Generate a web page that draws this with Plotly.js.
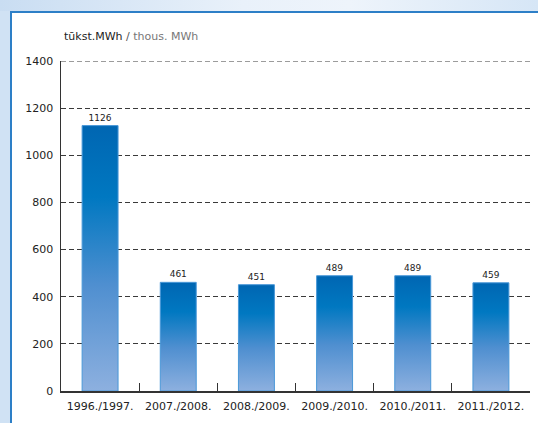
<!DOCTYPE html>
<html>
<head>
<meta charset="utf-8">
<script src="https://cdn.plot.ly/plotly-3.0.1.min.js"></script>
<style>
  html, body { margin: 0; padding: 0; overflow: hidden; background: #ffffff; }
  #bgLeft { position: absolute; left: 0; top: 0; width: 10px; height: 423px; background: #d0e2f4; }
  #topstrip {
    position: absolute; left: 0; top: 0; width: 100%; height: 11px;
    background: linear-gradient(to right, #c9ddf2 0%, #e9f1fa 45%, #eef4fb 65%, #d6e6f6 100%);
  }
  #lineLeft { position: absolute; left: 10px; top: 11px; width: 2px; height: 423px; background: #2d7fc7; }
  #lineTop { position: absolute; left: 10px; top: 11px; width: 100%; height: 2px; background: #2d7fc7; }
  #chart { position: absolute; left: 0; top: 0; width: 538px; height: 423px; }
</style>
</head>
<body>
<div id="bgLeft"></div>
<div id="topstrip"></div>
<div id="lineLeft"></div>
<div id="lineTop"></div>
<div id="chart"></div>
<script>
const categories = ["1996./1997.", "2007./2008.", "2008./2009.", "2009./2010.", "2010./2011.", "2011./2012."];
const values = [1126, 461, 451, 489, 489, 459];
const yTicks = [0, 200, 400, 600, 800, 1000, 1200, 1400];

const font = "DejaVu Sans, Verdana, sans-serif";

const trace = {
  type: "bar",
  x: categories,
  y: values,
  width: 0.46,
  text: values.map(String),
  textposition: "outside",
  cliponaxis: false,
  textfont: { family: font, size: 9, color: "#222" },
  marker: { color: "#0070ba", line: { color: "#4a98d8", width: 1 } },
  hoverinfo: "none"
};

const layout = {
  width: 538, height: 423,
  margin: { l: 61, r: 8, t: 61, b: 32 },
  paper_bgcolor: "rgba(0,0,0,0)",
  plot_bgcolor: "rgba(0,0,0,0)",
  showlegend: false,
  bargap: 0.54,
  font: { family: font, size: 11, color: "#222" },
  xaxis: {
    type: "category",
    showgrid: false,
    showline: true, linecolor: "#333", linewidth: 1.5,
    ticks: "inside", tickson: "boundaries", ticklen: 8, tickcolor: "#333", tickwidth: 1.2,
    ticklabelstandoff: 4,
    tickfont: { family: font, size: 11, color: "#222" },
    fixedrange: true
  },
  yaxis: {
    range: [0, 1400],
    tickvals: yTicks,
    ticktext: yTicks.map(String),
    showline: true, linecolor: "#333", linewidth: 1.5,
    showgrid: true, gridcolor: "#3a3a3a", gridwidth: 1, griddash: "5px,3px",
    zeroline: false,
    ticks: "",
    ticklabelstandoff: 4,
    tickfont: { family: font, size: 11, color: "#222" },
    fixedrange: true
  },
  shapes: [{
    type: "line", xref: "paper", yref: "y",
    x0: 0, x1: 1, y0: yTicks[yTicks.length - 1], y1: yTicks[yTicks.length - 1],
    line: { color: "#3a3a3a", width: 1, dash: "5px,3px" },
    layer: "below"
  }],
  annotations: [{
    xref: "paper", yref: "paper", x: 0, y: 1,
    xanchor: "left", yanchor: "middle", xshift: 1, yshift: 25,
    showarrow: false,
    text: "<span style='color:#222'>tūkst.MWh</span><span style='color:#555'> / </span><span style='color:#777'>thous. MWh</span>",
    font: { family: font, size: 11, color: "#222" }
  }]
};

Plotly.newPlot("chart", [trace], layout, { displayModeBar: false, staticPlot: true }).then(function (gd) {
  const svgNS = "http://www.w3.org/2000/svg";
  const svg = gd.querySelector(".main-svg");
  let defs = svg.querySelector("defs");
  if (!defs) { defs = document.createElementNS(svgNS, "defs"); svg.insertBefore(defs, svg.firstChild); }
  const grad = document.createElementNS(svgNS, "linearGradient");
  grad.setAttribute("id", "barGrad");
  grad.setAttribute("x1", "0"); grad.setAttribute("y1", "0");
  grad.setAttribute("x2", "0"); grad.setAttribute("y2", "1");
  [["0", "#0066b2"], ["0.27", "#0078c1"], ["0.6", "#4f8fd0"], ["1", "#8db0df"]].forEach(function (s) {
    const st = document.createElementNS(svgNS, "stop");
    st.setAttribute("offset", s[0]);
    st.setAttribute("stop-color", s[1]);
    grad.appendChild(st);
  });
  defs.appendChild(grad);
  gd.querySelectorAll(".barlayer .point path").forEach(function (p) {
    p.style.fill = "url(#barGrad)";
  });
});
</script>
</body>
</html>
